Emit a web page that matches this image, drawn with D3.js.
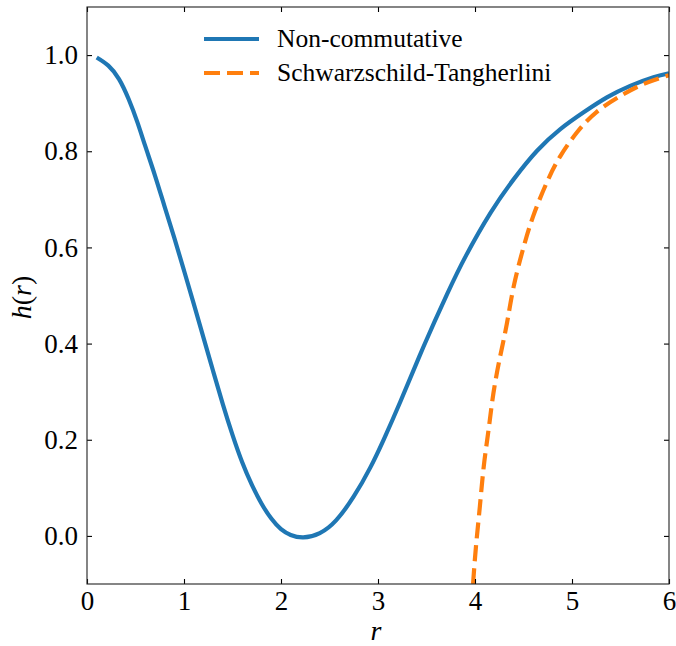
<!DOCTYPE html>
<html>
<head>
<meta charset="utf-8">
<script src="https://cdn.jsdelivr.net/npm/d3@7"></script>
</head>
<body style="margin:0">
<div id="graph"></div>
<script>

// non-commutative curve
var ncR = [0.1, 0.22, 0.33, 0.43, 0.52, 0.6, 0.7, 0.8, 0.9, 1.0, 1.1, 1.2, 1.3, 1.4, 1.5, 1.6, 1.7, 1.8, 1.9, 2.0, 2.1, 2.23, 2.4, 2.57, 2.75, 2.92, 3.06, 3.23, 3.47, 3.71, 3.91, 4.16, 4.4, 4.64, 4.88, 5.12, 5.36, 5.6, 5.84, 6.0]
var ncH = [0.995, 0.978, 0.95, 0.908, 0.86, 0.811, 0.75, 0.685, 0.62, 0.552, 0.483, 0.413, 0.343, 0.274, 0.21, 0.153, 0.106, 0.067, 0.036, 0.014, 0.002, -0.003, 0.006, 0.033, 0.082, 0.142, 0.201, 0.279, 0.394, 0.502, 0.584, 0.672, 0.742, 0.801, 0.846, 0.881, 0.912, 0.936, 0.954, 0.962]

// schwarzschild-tangherlini curve
var stR = [3.98, 4.01, 4.05, 4.09, 4.14, 4.19, 4.26, 4.33, 4.4, 4.5, 4.6, 4.74, 4.88, 5.05, 5.25, 5.5, 5.74, 6.0]
var stH = [-0.1, -0.022, 0.061, 0.144, 0.221, 0.297, 0.374, 0.443, 0.52, 0.6, 0.665, 0.735, 0.79, 0.839, 0.881, 0.915, 0.94, 0.958]

var xTicks = [0, 1, 2, 3, 4, 5, 6]
var yTicks = [0.0, 0.2, 0.4, 0.6, 0.8, 1.0]
var seriesNames = ['Non-commutative', 'Schwarzschild-Tangherlini']
var colors = ['#1f77b4', '#ff7f0e']

var serif = "'Liberation Serif'"

var W = 676, H = 646
var margin = {left: 87, right: 7, top: 7, bottom: 62}
var width = W - margin.left - margin.right
var height = H - margin.top - margin.bottom

var svg = d3.select('#graph').append('svg')
  .attr('width', W).attr('height', H)
  .style('font-family', serif)

var g = svg.append('g').attr('transform', `translate(${margin.left},${margin.top})`)

var x = d3.scaleLinear().domain([0, 6]).range([0, width])
var y = d3.scaleLinear().domain([-0.1, 1.1]).range([height, 0])

g.append('clipPath').attr('id', 'clip')
  .append('rect').attr('width', width).attr('height', height)

var line = d3.line()
  .x(d => x(d[0]))
  .y(d => y(d[1]))
  .curve(d3.curveNatural)

var nc = ncR.map((r, i) => [r, ncH[i]])
var st = stR.map((r, i) => [r, stH[i]])

var lines = g.append('g').attr('clip-path', 'url(#clip)')

lines.append('path').datum(nc)
  .attr('d', line)
  .attr('fill', 'none')
  .attr('stroke', colors[0])
  .attr('stroke-width', 4.2)

lines.append('path').datum(st)
  .attr('d', line)
  .attr('fill', 'none')
  .attr('stroke', colors[1])
  .attr('stroke-width', 4.2)
  .attr('stroke-dasharray', '16,7')

// axes, ticks pointing inward on all four sides
var tickLen = 5
function styleAxis(sel){
  sel.attr('font-family', 'Liberation Serif').attr('font-size', 27)
  sel.select('.domain').remove()
  sel.selectAll('.tick line').attr('stroke', '#000').attr('stroke-width', 1.1)
  sel.selectAll('.tick text')
    .style('font-family', serif).style('font-size', '27px').style('fill', '#000')
}

g.append('g').attr('transform', `translate(0,${height})`)
  .call(d3.axisBottom(x).tickValues(xTicks).tickSizeInner(-tickLen).tickSizeOuter(0).tickPadding(7).tickFormat(d3.format('d')))
  .call(styleAxis)

g.append('g')
  .call(d3.axisTop(x).tickValues(xTicks).tickSizeInner(-tickLen).tickSizeOuter(0).tickFormat(''))
  .call(styleAxis)

g.append('g')
  .call(d3.axisLeft(y).tickValues(yTicks).tickSizeInner(-tickLen).tickSizeOuter(0).tickPadding(9).tickFormat(d3.format('.1f')))
  .call(styleAxis)

g.append('g').attr('transform', `translate(${width},0)`)
  .call(d3.axisRight(y).tickValues(yTicks).tickSizeInner(-tickLen).tickSizeOuter(0).tickFormat(''))
  .call(styleAxis)

g.append('rect')
  .attr('width', width).attr('height', height)
  .attr('fill', 'none').attr('stroke', '#222').attr('stroke-width', 1.1)

// axis labels
svg.append('text')
  .attr('x', margin.left + width/2 - 2).attr('y', 640)
  .attr('text-anchor', 'middle')
  .style('font-family', serif)
  .style('font-size', '28px').style('font-style', 'italic')
  .text('r')

var yl = svg.append('text')
  .attr('transform', `translate(31,${margin.top + height/2 + 2}) rotate(-90)`)
  .attr('text-anchor', 'middle')
  .style('font-family', serif)
  .style('font-size', '28px')
yl.append('tspan').style('font-style', 'italic').text('h')
yl.append('tspan').text('(')
yl.append('tspan').style('font-style', 'italic').text('r')
yl.append('tspan').text(')')

// legend
var leg = svg.append('g').attr('transform', 'translate(204,39)')
seriesNames.forEach((name, i) => {
  var row = leg.append('g').attr('transform', `translate(0,${i*34})`)
  row.append('line')
    .attr('x1', 0).attr('x2', 55)
    .attr('stroke', colors[i]).attr('stroke-width', 4.2)
    .attr('stroke-dasharray', i ? '16,7' : null)
  row.append('text')
    .attr('x', 73).attr('y', 8)
    .style('font-family', serif)
    .style('font-size', '25.5px')
    .text(name)
})

</script>
</body>
</html>
